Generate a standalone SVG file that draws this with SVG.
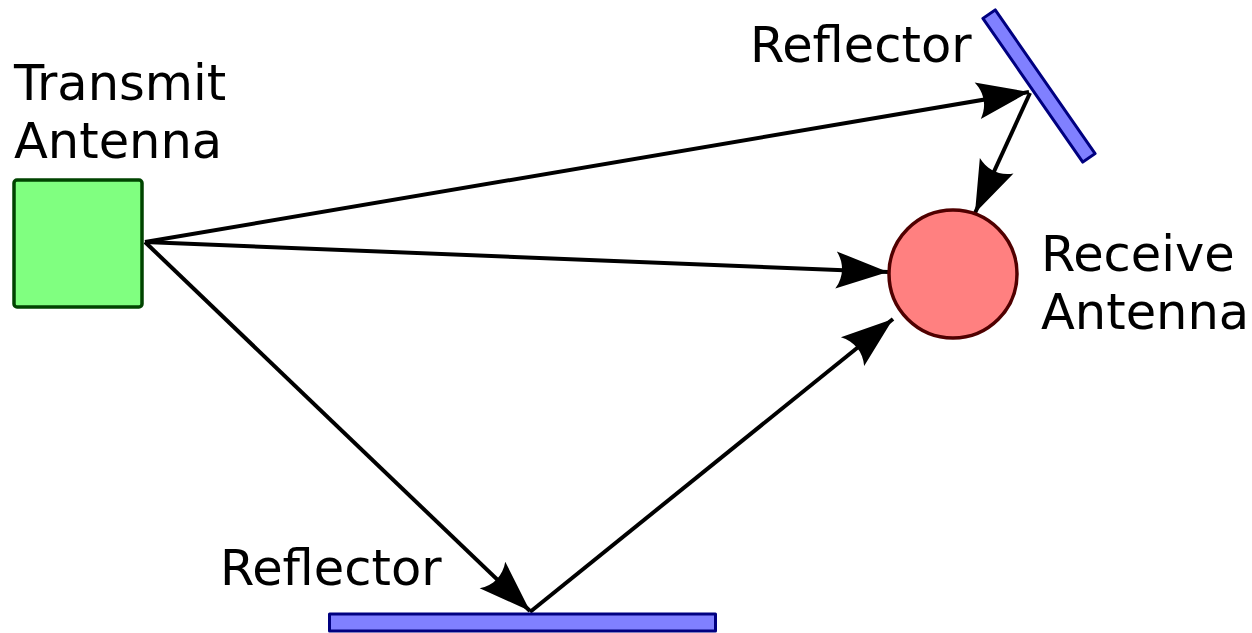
<svg xmlns="http://www.w3.org/2000/svg" width="1252" height="633" viewBox="0 0 1252 633">
<style>
text{font-family:"DejaVu Sans","Liberation Sans",sans-serif;font-size:49.5px;fill:#000}
.ray{stroke:#000;stroke-width:4;fill:none;marker-end:url(#arr)}
.refl{fill:#8080ff;stroke:#000080;stroke-width:3;stroke-linejoin:round}
</style>
<defs>
<marker id="arr" markerUnits="userSpaceOnUse" viewBox="-54 -20 56 40" refX="0" refY="0" markerWidth="56" markerHeight="40" orient="auto" overflow="visible">
<path d="M0,0 L-52,-18.5 C-44,-7 -44,7 -52,18.5 Z" fill="#000"/>
</marker>
</defs>
<rect width="1252" height="633" fill="#fff"/>
<g id="connectors">
<line class="ray" x1="145" y1="242" x2="1029" y2="92"/>
<line class="ray" x1="145" y1="242" x2="888" y2="272"/>
<line class="ray" x1="145" y1="242" x2="530" y2="611"/>
<line class="ray" x1="530" y1="612" x2="893" y2="319"/>
<line class="ray" x1="1030" y1="93" x2="975" y2="213"/>
</g>
<g id="transmit">
<rect x="14" y="180" width="128" height="127" rx="3" fill="#80ff80" stroke="#004400" stroke-width="3.5"/>
<text x="14" y="100">Transmit</text>
<text x="14" y="158">Antenna</text>
</g>
<g id="receive">
<circle cx="953" cy="274" r="64" fill="#ff8080" stroke="#500000" stroke-width="3.5"/>
<text x="1041" y="271">Receive</text>
<text x="1041" y="329">Antenna</text>
</g>
<g id="reflector-top">
<rect class="refl" x="-87.5" y="-7.5" width="175" height="15" transform="translate(1039,86) rotate(55.2)"/>
<text x="750" y="62">Reflector</text>
</g>
<g id="reflector-bottom">
<rect class="refl" x="329.5" y="614" width="386" height="17"/>
<text x="220" y="585">Reflector</text>
</g>
</svg>
